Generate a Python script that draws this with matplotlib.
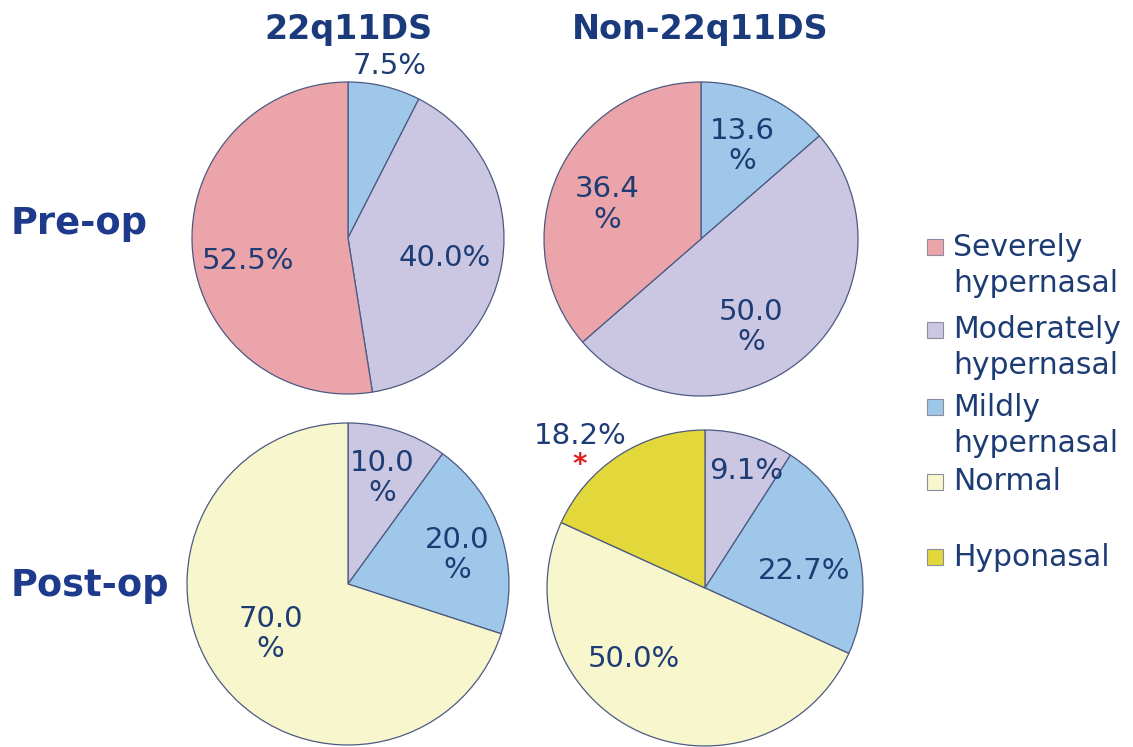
import matplotlib.pyplot as plt
from matplotlib.patches import Rectangle

# categories and colours
categories = ['Severely\nhypernasal', 'Moderately\nhypernasal', 'Mildly\nhypernasal', 'Normal', 'Hyponasal']
cat_colors = ['#EBA4A9', '#CBC7E3', '#9EC7E9', '#F8F6CD', '#E2D83B']

# percentages per group, clockwise from 12 o'clock
pre_22q_cats = [2, 1, 0]
pre_22q = [7.5, 40.0, 52.5]
pre_non_cats = [2, 1, 0]
pre_non = [13.6, 50.0, 36.4]
post_22q_cats = [1, 2, 3]
post_22q = [10.0, 20.0, 70.0]
post_non_cats = [1, 2, 3, 4]
post_non = [9.1, 22.7, 50.0, 18.2]

col_titles = ['22q11DS', 'Non-22q11DS']
row_titles = ['Pre-op', 'Post-op']

W, H = 1133, 747
navy = '#1D3C74'
title_navy = '#1B3A7C'

fig = plt.figure(figsize=(W / 100, H / 100), dpi=100)
fig.patch.set_facecolor('white')


def pie_axes(cx, cy, r):
    ax = fig.add_axes([(cx - r) / W, 1 - (cy + r) / H, 2 * r / W, 2 * r / H])
    return ax


def draw_pie(ax, vals, cats, label_pos, split):
    ax.pie(vals, colors=[cat_colors[c] for c in cats], startangle=90, counterclock=False,
           radius=1, wedgeprops=dict(edgecolor='#4B5A82', linewidth=0.9))
    ax.set_xlim(-1, 1)
    ax.set_ylim(-1, 1)
    ax.set_aspect('auto')
    ax.axis('off')
    for v, (x, y), s in zip(vals, label_pos, split):
        txt = f'{v:.1f}\n%' if s else f'{v:.1f}%'
        ax.text(x, y, txt, ha='center', va='center', fontsize=21, color=navy,
                linespacing=1.1, clip_on=False)


# pre-op, 22q11DS
ax1 = pie_axes(348, 238, 156)
draw_pie(ax1, pre_22q, pre_22q_cats,
         [(0.27, 1.10), (0.62, -0.13), (-0.64, -0.15)], [False, False, False])

# pre-op, non-22q11DS
ax2 = pie_axes(701, 239, 157)
draw_pie(ax2, pre_non, pre_non_cats,
         [(0.26, 0.59), (0.32, -0.56), (-0.60, 0.22)], [True, True, True])

# post-op, 22q11DS
ax3 = pie_axes(348, 584, 161)
draw_pie(ax3, post_22q, post_22q_cats,
         [(0.21, 0.66), (0.68, 0.18), (-0.48, -0.31)], [True, True, True])

# post-op, non-22q11DS
ax4 = pie_axes(705, 588, 158)
draw_pie(ax4, post_non, post_non_cats,
         [(0.26, 0.74), (0.63, 0.11), (-0.45, -0.45), (-0.79, 0.96)],
         [False, False, False, False])
ax4.text(-0.79, 0.78, '*', ha='center', va='center', fontsize=20, color='#E02020',
         fontweight='bold', clip_on=False)

# column and row headings
for x, t in zip([348, 700], col_titles):
    fig.text(x / W, 1 - 29 / H, t, ha='center', va='center', fontsize=24,
             fontweight='bold', color=title_navy)
for y, t in zip([223, 585], row_titles):
    fig.text(11 / W, 1 - y / H, t, ha='left', va='center', fontsize=26.5,
             fontweight='bold', color='#1E3A8C')

# legend
legend_y = [247, 330, 407, 482, 557]
for i, (lab, col) in enumerate(zip(categories, cat_colors)):
    y = legend_y[i]
    fig.patches.append(Rectangle((927 / W, 1 - (y + 8) / H), 16 / W, 16 / H,
                                 transform=fig.transFigure, facecolor=col,
                                 edgecolor='#8A8FA0', linewidth=0.8))
    lines = lab.split('\n')
    fig.text(953 / W, 1 - y / H, lines[0], ha='left', va='center', fontsize=21.5, color=navy)
    if len(lines) > 1:
        fig.text(953 / W, 1 - (y + 36) / H, lines[1], ha='left', va='center',
                 fontsize=21.5, color=navy)

fig.savefig('out.png', dpi=100)
